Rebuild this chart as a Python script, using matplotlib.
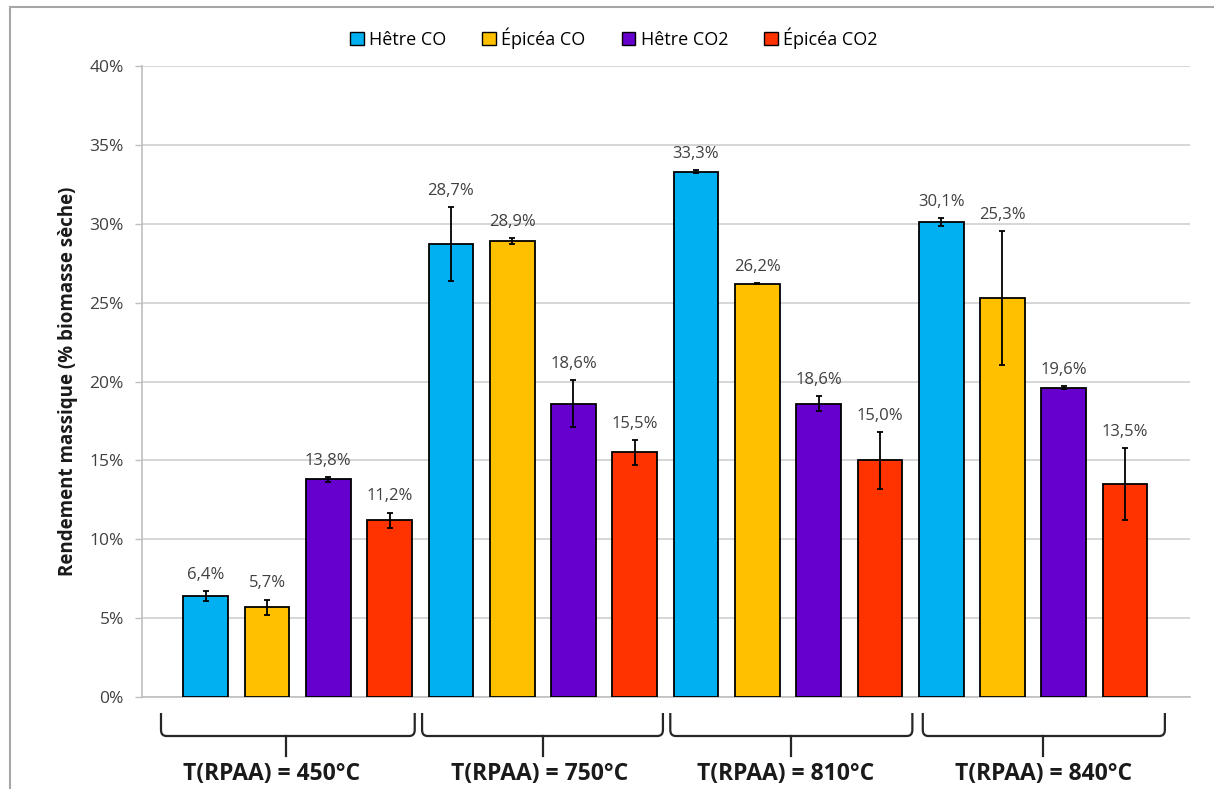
import numpy as np
import matplotlib
matplotlib.use("Agg")
import matplotlib.pyplot as plt
from matplotlib.lines import Line2D
from matplotlib.patches import Patch, PathPatch
from matplotlib.path import Path
from matplotlib.ticker import FuncFormatter

# Data
groups = ["T(RPAA) = 450°C", "T(RPAA) = 750°C", "T(RPAA) = 810°C", "T(RPAA) = 840°C"]
series = ["Hêtre CO", "Épicéa CO", "Hêtre CO2", "Épicéa CO2"]
colors = ["#00B0F0", "#FFC000", "#6600CC", "#FF3300"]

hetre_co = [6.4, 28.7, 33.3, 30.1]
epicea_co = [5.7, 28.9, 26.2, 25.3]
hetre_co2 = [13.8, 18.6, 18.6, 19.6]
epicea_co2 = [11.2, 15.5, 15.0, 13.5]

hetre_co_err = [0.33, 2.35, 0.08, 0.25]
epicea_co_err = [0.48, 0.2, 0.03, 4.25]
hetre_co2_err = [0.15, 1.5, 0.48, 0.1]
epicea_co2_err = [0.49, 0.78, 1.8, 2.28]

# brace spans (in bar-index units) and where the middle tick sits
brace_left = [-0.73, 3.53, 7.58, 11.7]
brace_right = [3.41, 7.46, 11.53, 15.65]
brace_mid = [1.31, 5.51, 9.55, 13.66]
label_x = [1.08, 5.44, 9.47, 13.67]

values = [hetre_co, epicea_co, hetre_co2, epicea_co2]
errors = [hetre_co_err, epicea_co_err, hetre_co2_err, epicea_co2_err]

plt.rcParams['font.family'] = ['Open Sans', 'DejaVu Sans']

W, H = 1214, 789
fig = plt.figure(figsize=(W / 100, H / 100), dpi=100)
ax = fig.add_axes([142 / W, 1 - 697 / H, (1190 - 142) / W, (697 - 66) / H])

n_series = len(series)
for s in range(n_series):
    x = np.arange(len(groups)) * n_series + s
    ax.bar(x, values[s], width=0.73, color=colors[s], edgecolor="black",
           linewidth=1.3, zorder=3)
    ax.errorbar(x, values[s], yerr=errors[s], fmt="none", ecolor="black",
                elinewidth=1.3, capsize=2.5, capthick=1.3, zorder=4)
    for xi, v, e in zip(x, values[s], errors[s]):
        ax.annotate(f"{v:.1f}%".replace(".", ","), (xi, v + e),
                    xytext=(0, 6), textcoords="offset points",
                    ha="center", va="bottom", fontsize=12, color="#404040")

ax.set_xlim(-1.04, 16.06)
ax.set_ylim(0, 40)
ax.set_yticks(range(0, 41, 5))
ax.yaxis.set_major_formatter(FuncFormatter(lambda v, p: f"{v:.0f}%"))
ax.tick_params(axis="y", labelsize=12.5, colors="#BFBFBF", labelcolor="#404040",
               length=5, width=1, pad=8)
ax.set_xticks([])
ax.grid(axis="y", color="#D0D0D0", linewidth=1.2, zorder=0)
for side in ["top", "right"]:
    ax.spines[side].set_visible(False)
ax.spines["left"].set_color("#BFBFBF")
ax.spines["bottom"].set_color("#BFBFBF")
ax.spines["left"].set_linewidth(1.2)
ax.spines["bottom"].set_linewidth(1.2)

ax.set_ylabel("Rendement massique (% biomasse sèche)", fontsize=13.5,
              fontweight="bold", color="#1a1a1a", labelpad=8)

# braces under the groups
tr = ax.get_xaxis_transform()
y_top, y_bar, y_tick = -16 / 631, -39 / 631, -59 / 631
rx, ry = 0.09, 6 / 631
for l, r, m, lx, g in zip(brace_left, brace_right, brace_mid, label_x, groups):
    verts = [(l, y_top), (l, y_bar + ry), (l, y_bar), (l + rx, y_bar),
             (r - rx, y_bar), (r, y_bar), (r, y_bar + ry), (r, y_top)]
    codes = [Path.MOVETO, Path.LINETO, Path.CURVE3, Path.CURVE3,
             Path.LINETO, Path.CURVE3, Path.CURVE3, Path.LINETO]
    ax.add_patch(PathPatch(Path(verts, codes), transform=tr, fill=False,
                           edgecolor="#262626", linewidth=1.6, clip_on=False))
    ax.add_line(Line2D([m, m], [y_bar, y_tick], transform=tr,
                       color="#262626", linewidth=1.6, clip_on=False))
    ax.text(lx, -77 / 631, g, transform=tr, ha="center", va="center",
            fontsize=16.5, fontweight="bold", color="#1a1a1a")

# legend
handles = [Patch(facecolor=c, edgecolor="black", linewidth=1.0) for c in colors]
fig.legend(handles, series, loc="center", bbox_to_anchor=(614 / W, 1 - 38 / H),
           ncol=4, frameon=False, fontsize=13, handlelength=0.75,
           handleheight=0.75, handletextpad=0.3, columnspacing=2.0)

# outer frame (top and left edges of the chart area)
fig.add_artist(Line2D([10 / W, 10 / W], [0, 1 - 7 / H], transform=fig.transFigure,
                      color="#A6A6A6", linewidth=1.5))
fig.add_artist(Line2D([10 / W, 1], [1 - 7 / H, 1 - 7 / H], transform=fig.transFigure,
                      color="#A6A6A6", linewidth=1.5))

fig.savefig("out.png", dpi=100)
